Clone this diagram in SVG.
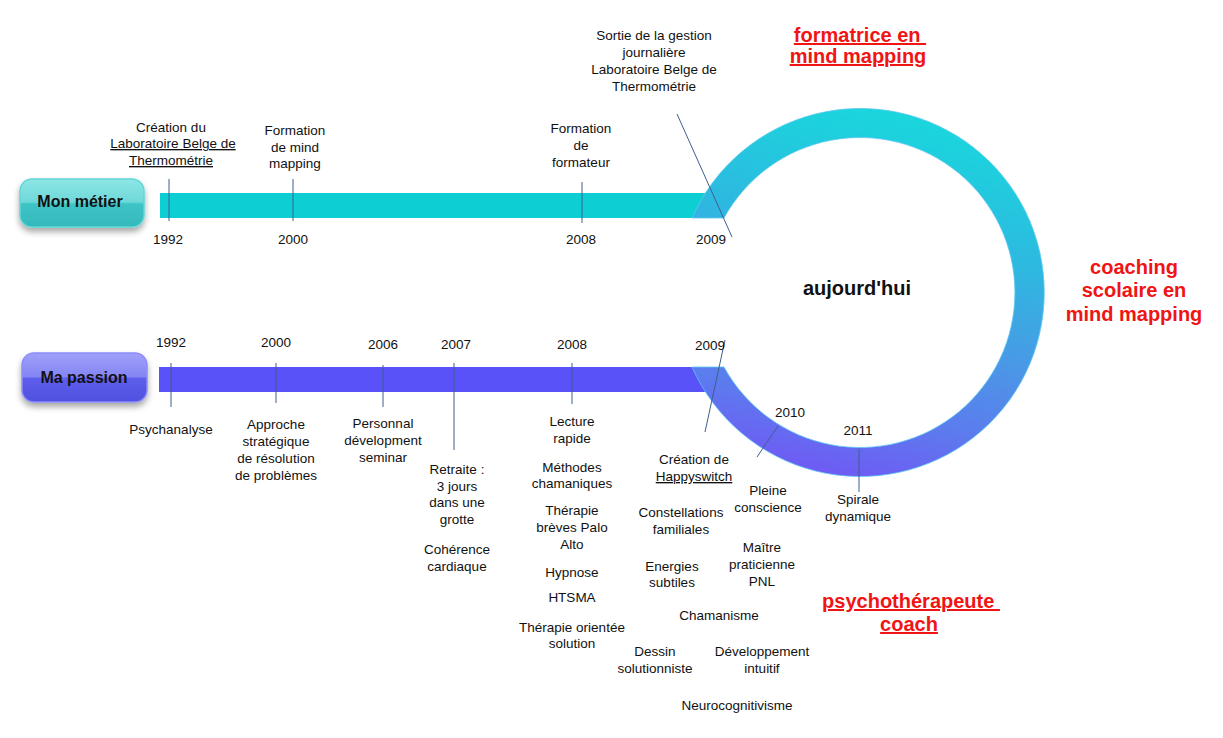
<svg xmlns="http://www.w3.org/2000/svg" width="1223" height="738" viewBox="0 0 1223 738">
<defs>
<style>
text{font-family:"Liberation Sans",Arial,sans-serif;fill:#111;}
.t{font-size:13.5px;text-anchor:middle;}
.u{text-decoration:underline;}
.red{font-size:20px;font-weight:bold;fill:#F01414;text-anchor:middle;}
.btn{font-size:16px;font-weight:bold;text-anchor:middle;}
.tick{stroke:#3F5F8F;stroke-width:1;fill:none;}
</style>
<linearGradient id="ringGrad" gradientUnits="userSpaceOnUse" x1="900" y1="108" x2="820" y2="478">
<stop offset="0" stop-color="#18D8DC"/>
<stop offset="0.35" stop-color="#2EB8E0"/>
<stop offset="0.6" stop-color="#4A98E6"/>
<stop offset="0.8" stop-color="#5C7CEE"/>
<stop offset="1" stop-color="#7058F4"/>
</linearGradient>
<linearGradient id="tealBtn" x1="0" y1="0" x2="0" y2="1">
<stop offset="0" stop-color="#8EE6E6"/>
<stop offset="0.48" stop-color="#6ED8D8"/>
<stop offset="0.52" stop-color="#3EC4C6"/>
<stop offset="1" stop-color="#34B8BC"/>
</linearGradient>
<linearGradient id="blueBtn" x1="0" y1="0" x2="0" y2="1">
<stop offset="0" stop-color="#A0A0FA"/>
<stop offset="0.48" stop-color="#8585F4"/>
<stop offset="0.52" stop-color="#5E5EEC"/>
<stop offset="1" stop-color="#5050E0"/>
</linearGradient>
<filter id="shadow" x="-20%" y="-20%" width="140%" height="160%">
<feDropShadow dx="0" dy="4" stdDeviation="3" flood-color="#000" flood-opacity="0.35"/>
</filter>
</defs>
<rect width="1223" height="738" fill="#fff"/>

<g id="bars">
<rect x="160" y="193" width="555" height="25" fill="#0DCFD3"/>
<rect x="159" y="367" width="556" height="25" fill="#5852F8"/>
</g>

<g id="ring">
<path d="M692,218 A184,184 0 1 1 692,367 L724,367 A155,155 0 1 0 724,218 Z" fill="url(#ringGrad)" stroke="#5CC8F2" stroke-width="1" stroke-opacity="0.8"/>
</g>

<g id="btn-metier">
<rect x="20" y="179" width="124" height="48" rx="12" fill="url(#tealBtn)" stroke="#62D6D6" stroke-width="1.5" filter="url(#shadow)"/>
<text class="btn" x="80" y="207">Mon métier</text>
</g>

<g id="btn-passion">
<rect x="22" y="353" width="125" height="49" rx="12" fill="url(#blueBtn)" stroke="#8C8CFA" stroke-width="1.5" filter="url(#shadow)"/>
<text class="btn" x="84" y="383">Ma passion</text>
</g>

<g id="connectors">
<line class="tick" x1="169" y1="179" x2="169" y2="221"/>
<line class="tick" x1="293" y1="179" x2="293" y2="221"/>
<line class="tick" x1="582" y1="182" x2="582" y2="223"/>
<line class="tick" x1="677" y1="114" x2="732" y2="237"/>
<line class="tick" x1="171" y1="363" x2="171" y2="407"/>
<line class="tick" x1="276" y1="363" x2="276" y2="403"/>
<line class="tick" x1="383" y1="365" x2="383" y2="407"/>
<line class="tick" x1="454" y1="363" x2="454" y2="450"/>
<line class="tick" x1="572" y1="363" x2="572" y2="404"/>
<line class="tick" x1="725" y1="340" x2="705" y2="432"/>
<line class="tick" x1="778" y1="426" x2="757" y2="457"/>
<line class="tick" x1="859" y1="449" x2="859" y2="492"/>
</g>

<g id="metier-events">
<text class="t" x="171" y="132">Création du</text>
<text class="t u" x="173" y="148">Laboratoire Belge de </text>
<text class="t u" x="171" y="165">Thermométrie</text>
<text class="t" x="295" y="135">Formation</text>
<text class="t" x="295" y="152">de mind</text>
<text class="t" x="295" y="168">mapping</text>
<text class="t" x="581" y="133">Formation</text>
<text class="t" x="581" y="150">de</text>
<text class="t" x="581" y="167">formateur</text>
<text class="t" x="654" y="40">Sortie de la gestion</text>
<text class="t" x="654" y="57">journalière</text>
<text class="t" x="654" y="74">Laboratoire Belge de</text>
<text class="t" x="654" y="91">Thermométrie</text>
<text class="t" x="168" y="244">1992</text>
<text class="t" x="293" y="244">2000</text>
<text class="t" x="581" y="244">2008</text>
<text class="t" x="711" y="244">2009</text>
</g>

<g id="passion-years">
<text class="t" x="171" y="347">1992</text>
<text class="t" x="276" y="347">2000</text>
<text class="t" x="383" y="349">2006</text>
<text class="t" x="456" y="349">2007</text>
<text class="t" x="572" y="349">2008</text>
<text class="t" x="710" y="350">2009</text>
<text class="t" x="790" y="417">2010</text>
<text class="t" x="858" y="435">2011</text>
</g>

<g id="passion-events">
<text class="t" x="171" y="434">Psychanalyse</text>
<text class="t" x="276" y="429">Approche</text>
<text class="t" x="276" y="446">stratégique</text>
<text class="t" x="276" y="463">de résolution</text>
<text class="t" x="276" y="480">de problèmes</text>
<text class="t" x="383" y="428">Personnal</text>
<text class="t" x="383" y="445">dévelopment</text>
<text class="t" x="383" y="462">seminar</text>
<text class="t" x="457" y="474">Retraite :</text>
<text class="t" x="457" y="491">3 jours</text>
<text class="t" x="457" y="507">dans une</text>
<text class="t" x="457" y="524">grotte</text>
<text class="t" x="457" y="554">Cohérence</text>
<text class="t" x="457" y="571">cardiaque</text>
<text class="t" x="572" y="426">Lecture</text>
<text class="t" x="572" y="443">rapide</text>
<text class="t" x="572" y="472">Méthodes</text>
<text class="t" x="572" y="488">chamaniques</text>
<text class="t" x="572" y="515">Thérapie</text>
<text class="t" x="572" y="532">brèves Palo</text>
<text class="t" x="572" y="549">Alto</text>
<text class="t" x="572" y="577">Hypnose</text>
<text class="t" x="572" y="602">HTSMA</text>
<text class="t" x="572" y="632">Thérapie orientée</text>
<text class="t" x="572" y="648">solution</text>
<text class="t" x="694" y="464">Création de</text>
<text class="t u" x="694" y="481">Happyswitch</text>
<text class="t" x="768" y="495">Pleine</text>
<text class="t" x="768" y="512">conscience</text>
<text class="t" x="858" y="504">Spirale</text>
<text class="t" x="858" y="521">dynamique</text>
<text class="t" x="681" y="517">Constellations</text>
<text class="t" x="681" y="534">familiales</text>
<text class="t" x="762" y="552">Maître</text>
<text class="t" x="762" y="569">praticienne</text>
<text class="t" x="762" y="586">PNL</text>
<text class="t" x="672" y="571">Energies</text>
<text class="t" x="672" y="587">subtiles</text>
<text class="t" x="719" y="620">Chamanisme</text>
<text class="t" x="655" y="656">Dessin</text>
<text class="t" x="655" y="673">solutionniste</text>
<text class="t" x="762" y="656">Développement</text>
<text class="t" x="762" y="673">intuitif</text>
<text class="t" x="737" y="710">Neurocognitivisme</text>
</g>

<g id="center-label">
<text x="857" y="295" style="font-size:20px;font-weight:bold;text-anchor:middle;">aujourd'hui</text>
</g>

<g id="roles">
<text class="red u" x="860" y="42" xml:space="preserve">formatrice en </text>
<text class="red u" x="858" y="63">mind mapping</text>
<text class="red" x="1134" y="274">coaching</text>
<text class="red" x="1134" y="297">scolaire en</text>
<text class="red" x="1134" y="321">mind mapping</text>
<text class="red u" x="911" y="608" xml:space="preserve">psychothérapeute </text>
<text class="red u" x="909" y="631">coach</text>
</g>
</svg>
